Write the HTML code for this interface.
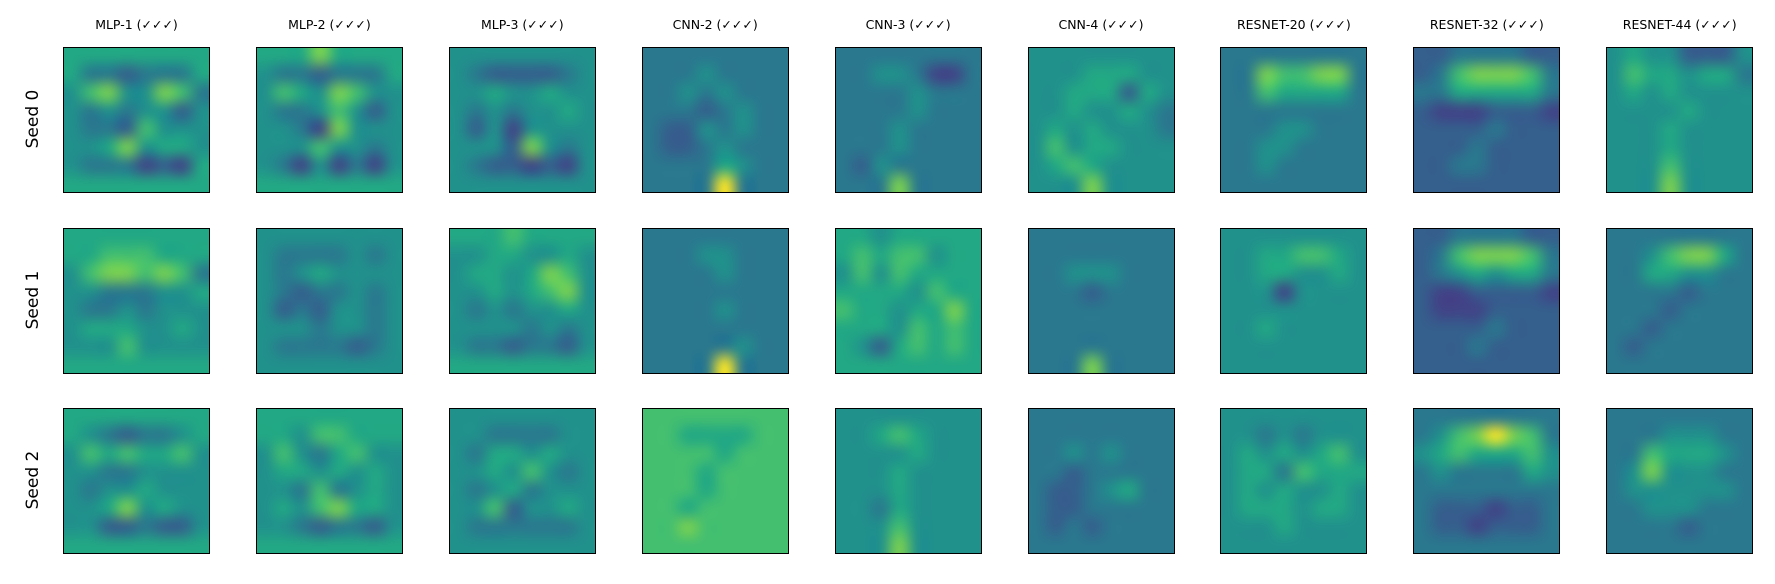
<!DOCTYPE html>
<html><head><meta charset="utf-8">
<style>
html,body{margin:0;padding:0;background:#fff;}
#fig{position:relative;width:1775px;height:584px;overflow:hidden;font-family:"Liberation Sans","DejaVu Sans",sans-serif;}
canvas.hm{position:absolute;}
.frame{position:absolute;border:1.5px solid #000;box-sizing:border-box;}
.title{position:absolute;width:200px;text-align:center;font-size:12.5px;color:#000;top:17px;font-family:"DejaVu Sans","Liberation Sans",sans-serif;}
.rowlab{position:absolute;font-size:17px;color:#000;transform:rotate(-90deg);transform-origin:center;width:100px;text-align:center;font-family:"DejaVu Sans","Liberation Sans",sans-serif;}
</style></head>
<body>
<div id="fig"></div>
<script>
const models = ["MLP-1","MLP-2","MLP-3","CNN-2","CNN-3","CNN-4","RESNET-20","RESNET-32","RESNET-44"];
const seeds = ["Seed 0","Seed 1","Seed 2"];
const row0 = [
["66666666","64434446","57855874","54545535","54437555","55685665","54442326","66666666"],
["66686666","54434446","57658755","54457535","55428555","55575545","54252425","66666666"],
["55555555","54333345","55655655","54545565","53525555","55538545","54332325","55555555"],
["44444444","44454444","44545444","44434544","43354544","43345444","44446544","44449444"],
["44444444","44554224","44445444","44445444","44454444","44454444","43544444","44484444"],
["55555555","55566655","55666365","55655654","56565554","57566555","56765555","55585555"],
["44444444","44877884","44766664","44444444","44455444","44554444","44544444","44444444"],
["33444433","34788874","44666664","32223332","33334333","33343333","33443333","33333333"],
["56553335","57665664","56565555","55556555","55565555","55565555","55575555","55585555"]
];
const row1 = [
["66666666","66777666","57887874","55444556","54454555","56665565","55575555","66666666"],
["55555555","54444545","54565555","54344545","53435545","55545545","54444345","55555555"],
["66676666","55665565","56656875","55656785","54545565","55554545","54434435","66666666"],
["44444444","44455444","44445444","44444444","44445444","44444444","44444544","44449444"],
["66566666","67677566","57576666","66665766","76656686","66657676","65367676","66666666"],
["44444444","44444444","44555444","44434444","44444444","44444444","44444444","44484444"],
["55555555","55667765","55665565","55525555","55555555","55655555","55555555","55555555"],
["33444433","34788874","34565664","32233332","32223333","33334333","33343333","33333333"],
["44444444","44578864","44665544","44443444","44434444","44344444","43444444","44444444"]
];
const row2 = [
["66666666","65434456","57676675","55445555","54556555","55685655","55334335","66666666"],
["66666666","66577666","57546755","56656565","55474565","56578665","55434435","66666666"],
["55555555","55444455","54665655","55657545","54564555","55735565","54444445","55555555"],
["77777777","77666677","77776777","77767777","77767777","77677777","77877777","77777777"],
["55555555","55676555","55556555","55565555","55565555","55465555","55575555","55585555"],
["44444444","44444444","44545444","44344444","43345644","43344444","43434444","44444444"],
["55555555","55454555","56565675","56647666","56565565","56665665","55565555","55555555"],
["44444444","45789874","56766675","45444465","44444444","43332334","43323334","44444444"],
["44444444","44455544","44766654","45855544","45555554","44555444","44443444","44444444"]
];
const grids = [row0,row1,row2];

const VIR = ["#440154","#482475","#414487","#355f8d","#2a788e","#21918c","#22a884","#44bf70","#7ad151","#bddf26","#fde725"];
function hex(h){return [parseInt(h.substr(1,2),16),parseInt(h.substr(3,2),16),parseInt(h.substr(5,2),16)];}
function viridis(t){t=Math.max(0,Math.min(1,t));const p=t*10,i=Math.min(9,Math.floor(p)),f=p-i;const a=hex(VIR[i]),b=hex(VIR[i+1]);return [0,1,2].map(k=>Math.round(a[k]+(b[k]-a[k])*f));}
function level(v){return v>=9?1:v/10;}

const X0=63, DX=192.9, Y0=47, DY=180.6, W=147, H=146;
function xPos(c){return X0+c*DX;}
function yPos(r){return Y0+r*DY;}

const fig=document.getElementById('fig');
models.forEach((m,c)=>{
  const t=document.createElement('div');
  t.className='title';
  t.style.left=(xPos(c)+W/2-100)+'px';
  t.textContent=m+' (\u2713\u2713\u2713)';
  
  
  fig.appendChild(t);
});
seeds.forEach((s,r)=>{
  const l=document.createElement('div');
  l.className='rowlab';
  l.style.left=(33-50)+'px';
  l.style.top=(yPos(r)+H/2-11)+'px';
  l.textContent=s;
  
  
  fig.appendChild(l);
});
for(let r=0;r<3;r++){
  for(let c=0;c<9;c++){
    const g=grids[r][c];
    const n=g.length;
    const small=document.createElement('canvas');
    small.width=n;small.height=n;
    const sctx=small.getContext('2d');
    const img=sctx.createImageData(n,n);
    for(let i=0;i<n;i++)for(let j=0;j<n;j++){
      const v=parseInt(g[i][j],10);
      const col=viridis(level(v));
      const o=(i*n+j)*4;
      img.data[o]=col[0];img.data[o+1]=col[1];img.data[o+2]=col[2];img.data[o+3]=255;
    }
    sctx.putImageData(img,0,0);
    const cv=document.createElement('canvas');
    cv.className='hm';
    cv.width=W;cv.height=H;
    cv.style.left=xPos(c)+'px';cv.style.top=yPos(r)+'px';
    
    
    const ctx=cv.getContext('2d');
    ctx.imageSmoothingEnabled=true;
    ctx.imageSmoothingQuality='high';
    ctx.drawImage(small,0,0,W,H);
    fig.appendChild(cv);
    const f=document.createElement('div');
    f.className='frame';
    f.style.left=xPos(c)+'px';f.style.top=yPos(r)+'px';
    f.style.width=W+'px';f.style.height=H+'px';
    
    
    fig.appendChild(f);
  }
}
</script>
</body></html>
